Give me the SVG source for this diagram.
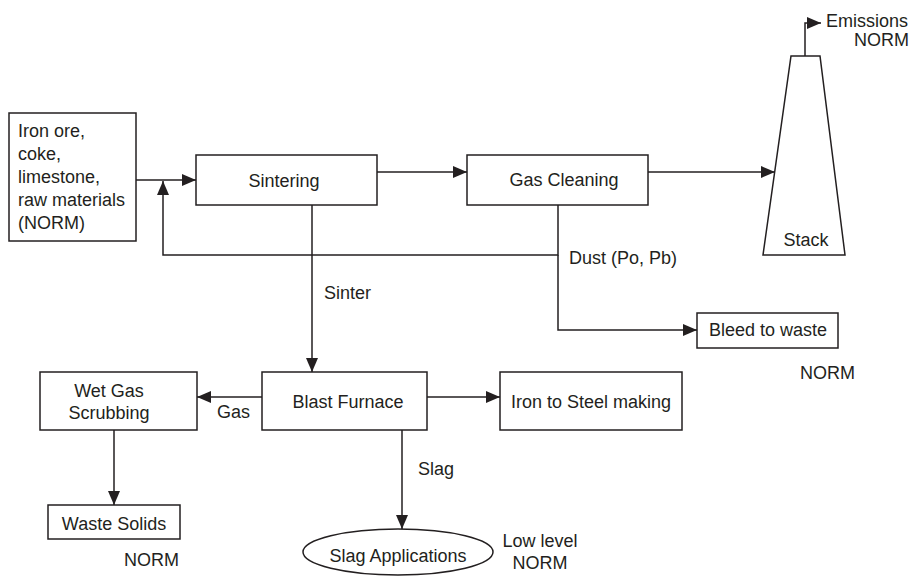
<svg xmlns="http://www.w3.org/2000/svg" width="912" height="576" viewBox="0 0 912 576">
<style>
  .box{fill:#fff;stroke:#231f20;stroke-width:1.5}
  .c{fill:none;stroke:#231f20;stroke-width:1.5}
  text{font-family:"Liberation Sans",Arial,sans-serif;font-size:18px;fill:#231f20}
  .m{text-anchor:middle}
</style>
<defs>
  <marker id="ah" markerUnits="userSpaceOnUse" markerWidth="14" markerHeight="12" viewBox="0 0 14 12" refX="14" refY="6" orient="auto">
    <path d="M0,0 L14,6 L0,12 Z" fill="#231f20"/>
  </marker>
</defs>
<rect width="912" height="576" fill="#fff"/>
<g id="connectors">
  <path class="c" d="M136,180 H196" marker-end="url(#ah)"/>
  <path class="c" d="M558,205 V255 H163 V181" marker-end="url(#ah)"/>
  <path class="c" d="M377,172 H467" marker-end="url(#ah)"/>
  <path class="c" d="M648,172 H775" marker-end="url(#ah)"/>
  <path class="c" d="M805,56 V23 H821" marker-end="url(#ah)"/>
  <path class="c" d="M558,255 V330 H697" marker-end="url(#ah)"/>
  <path class="c" d="M312,205 V372" marker-end="url(#ah)"/>
  <path class="c" d="M262,397 H197" marker-end="url(#ah)"/>
  <path class="c" d="M427,397 H500" marker-end="url(#ah)"/>
  <path class="c" d="M114,430 V505" marker-end="url(#ah)"/>
  <path class="c" d="M402,430 V529" marker-end="url(#ah)"/>
  <text x="569" y="264">Dust (Po, Pb)</text>
  <text x="324" y="299">Sinter</text>
  <text x="217" y="418">Gas</text>
  <text x="418" y="475">Slag</text>
</g>
<g id="raw">
  <rect class="box" x="9" y="113" width="127" height="128"/>
  <text x="18" y="137">Iron ore,</text>
  <text x="18" y="160">coke,</text>
  <text x="18" y="183">limestone,</text>
  <text x="18" y="206">raw materials</text>
  <text x="18" y="229">(NORM)</text>
</g>
<g id="sintering">
  <rect class="box" x="196" y="155" width="181" height="50"/>
  <text class="m" x="284" y="187">Sintering</text>
</g>
<g id="gascleaning">
  <rect class="box" x="467" y="155" width="181" height="50"/>
  <text class="m" x="564" y="186">Gas Cleaning</text>
</g>
<g id="stack">
  <path class="box" d="M791,56 H820 L845,255 H763 Z"/>
  <text class="m" x="806" y="246">Stack</text>
</g>
<g id="emissions">
  <text x="826" y="27">Emissions</text>
  <text x="909" y="46" text-anchor="end">NORM</text>
</g>
<g id="bleed">
  <rect class="box" x="697" y="313" width="141" height="35"/>
  <text class="m" x="768" y="336">Bleed to waste</text>
  <text x="800" y="379">NORM</text>
</g>
<g id="wetgas">
  <rect class="box" x="40" y="372" width="157" height="58"/>
  <text class="m" x="109" y="397">Wet Gas</text>
  <text class="m" x="109" y="419">Scrubbing</text>
</g>
<g id="blastfurnace">
  <rect class="box" x="262" y="372" width="165" height="58"/>
  <text class="m" x="348" y="408">Blast Furnace</text>
</g>
<g id="ironsteel">
  <rect class="box" x="500" y="372" width="182" height="58" stroke-width="2"/>
  <text class="m" x="591" y="408">Iron to Steel making</text>
</g>
<g id="wastesolids">
  <rect class="box" x="48" y="505" width="132" height="34"/>
  <text class="m" x="114" y="530">Waste Solids</text>
  <text x="124" y="566">NORM</text>
</g>
<g id="slagapps">
  <ellipse class="box" cx="398" cy="552" rx="95" ry="23"/>
  <text class="m" x="398" y="562">Slag Applications</text>
  <text class="m" x="540" y="547">Low level</text>
  <text class="m" x="540" y="569">NORM</text>
</g>
</svg>
